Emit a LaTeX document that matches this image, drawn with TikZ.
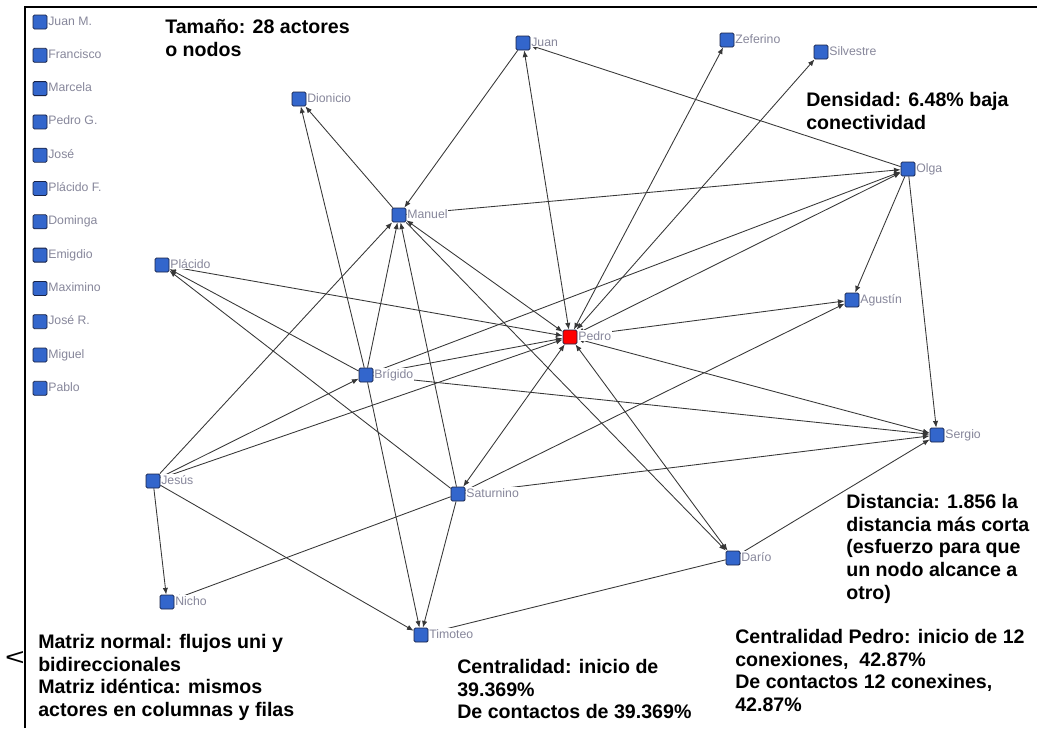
\documentclass[tikz,border=0pt]{standalone}
\usepackage{fontspec}
\setmainfont{Liberation Sans}
\usetikzlibrary{arrows.meta,backgrounds}
\definecolor{actorblue}{RGB}{51,102,204}
\definecolor{actoredge}{RGB}{25,35,70}
\definecolor{namegray}{RGB}{135,135,155}
\definecolor{tiegray}{RGB}{55,55,55}
\begin{document}
\begin{tikzpicture}[x=.75pt,y=-.75pt,
actor/.style={rectangle,rounded corners=1pt,draw=actoredge,fill=actorblue,line width=.6pt,minimum size=10.5pt,inner sep=0pt},
actorname/.style={anchor=base west,fill=white,inner sep=.5pt,text=namegray,font=\fontsize{9.2}{9.2}\selectfont},
remark/.style={anchor=north west,align=left,inner sep=0pt,font=\bfseries\fontsize{14.7}{17}\selectfont},
tie/.style={draw=tiegray,line width=.65pt,-{Latex[length=5pt,width=4pt]}},
twoway/.style={tie,{Latex[length=5pt,width=4pt]}-{Latex[length=5pt,width=4pt]}}]
\useasboundingbox(0,0)rectangle(1037,728);
% frame
\draw[line width=1.5pt](25,728)--(25,7)--(1037,7);
\node[font=\fontsize{18}{18}\selectfont,inner sep=0pt,xscale=1.4,transform shape](lt)at(15,658){<};
% isolates
\foreach\t[count=\i]in{Juan M.,Francisco,Marcela,Pedro G.,José,Plácido F.,Dominga,Emigdio,Maximino,José R.,Miguel,Pablo}{
\node[actor](iso\i)at(40,{22+33.3*(\i-1)}){};
\node[actorname]at([yshift=-2.25pt]iso\i.east){\t};}
% actors with ties
\foreach\n/\x/\y/\t in{juan/523/43/Juan,zef/727/40/Zeferino,silv/821/52/Silvestre,dion/299/99/Dionicio,olga/908/169/Olga,manuel/399/215/Manuel,placido/162/265/Plácido,agus/852/300/Agustín,brig/366/375/Brígido,sergio/937/435/Sergio,jesus/153/481/Jesús,satur/458/494/Saturnino,dario/733/558/Darío,nicho/167/602/Nicho,timo/421/635/Timoteo}{
\node[actor](\n)at(\x,\y){};
\node[actorname]at([yshift=-2.25pt]\n.east){\t};}
\node[actor,fill=red](pedro)at(570,337){};
\node[actorname]at([yshift=-2.25pt]pedro.east){Pedro};
% ties
\begin{scope}[on background layer]
\foreach\a in{juan,zef,silv,olga,agus,sergio,dario,satur,manuel,placido,brig,jesus}
\draw[twoway](pedro)--(\a);
\foreach\a/\b in{juan/manuel,olga/juan,manuel/dion,brig/dion,manuel/olga,brig/olga,olga/agus,olga/sergio,satur/agus,brig/sergio,satur/sergio,dario/sergio,jesus/manuel,jesus/brig,jesus/nicho,jesus/timo,brig/manuel,satur/manuel,brig/timo,satur/timo,satur/placido,brig/placido,satur/nicho,dario/timo,manuel/dario}
\draw[tie](\a)--(\b);
\end{scope}
% notes
\node[remark](size)at(165,19){Tamaño: 28 actores\\o nodos};
\node[remark](dens)at(806,92){Densidad: 6.48\% baja\\conectividad};
\node[remark](dist)at(846,494){Distancia: 1.856 la\\distancia más corta\\(esfuerzo para que\\un nodo alcance a\\otro)};
\node[remark](matriz)at(38,634){Matriz normal: flujos uni y\\bidireccionales\\Matriz idéntica: mismos\\actores en columnas y filas};
\node[remark](centr)at(457,659){Centralidad: inicio de\\39.369\%\\De contactos de 39.369\%};
\node[remark](centrp)at(735,629){Centralidad Pedro: inicio de 12\\conexiones,\ \ 42.87\%\\De contactos 12 conexines,\\42.87\%};
\end{tikzpicture}
\end{document}
